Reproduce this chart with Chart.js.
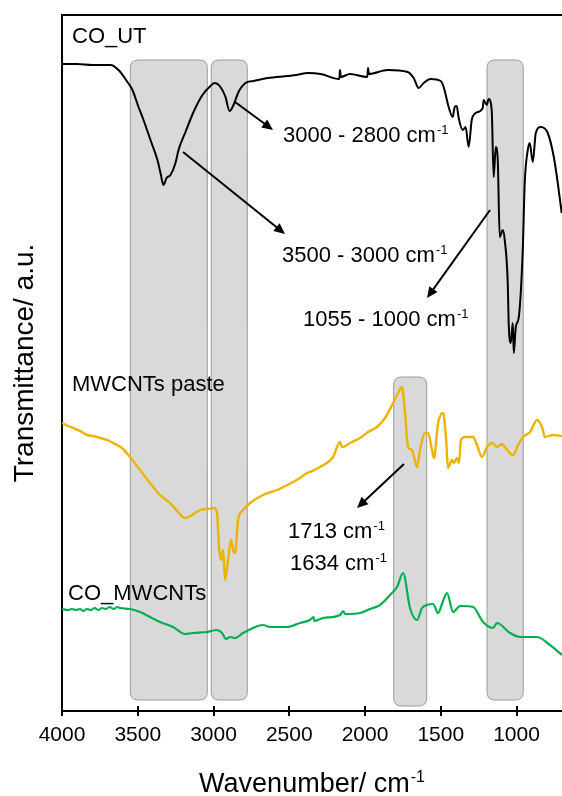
<!doctype html>
<html lang="en">
    <head>
        <meta charset="UTF-8" />
        <title>FTIR spectra</title>
        <script src="https://cdn.jsdelivr.net/npm/chart.js"></script>
        <style>
            html,
            body {
                margin: 0;
                padding: 0;
                background: #fff;
            }

            #chart {
                display: block;
            }
        </style>
    </head>
    <body>
        <canvas id="chart" width="562" height="796"></canvas>

        <script>
            const FONT = '"Liberation Sans", Arial, sans-serif';

            /*** * * data (wavenumber in cm-1, transmittance in a.u.) * * ***/

            const coUtWavenumber = [
                4000, 3900, 3800, 3680, 3627, 3568, 3535, 3495, 3462, 3416,
                3370, 3350, 3330, 3310, 3284, 3251, 3231, 3185, 3132, 3073,
                3020, 2993, 2954, 2921, 2894, 2868, 2835, 2789, 2736, 2643,
                2511, 2450, 2379, 2293, 2170, 2165, 2160, 2100, 1985, 1980,
                1975, 1851, 1719, 1679, 1646, 1613, 1567, 1501, 1481, 1448,
                1421, 1408, 1395, 1382, 1355, 1336, 1316, 1296, 1283, 1256,
                1223, 1217, 1197, 1184, 1164, 1151, 1137, 1124, 1111, 1091,
                1078, 1058, 1052, 1038, 1025, 1018, 1005, 985, 959, 946,
                926, 913, 893, 873, 840, 794, 754, 728, 702,
            ];
            const coUtValues = [
                647, 647, 646, 646, 641, 629, 621, 604, 591, 571,
                551, 538, 526, 533, 536, 548, 561, 579, 599, 616,
                625, 628, 624, 614, 600, 606, 619, 628, 630, 633,
                635, 636, 638, 637, 632, 641, 634, 637, 634, 643,
                637, 641, 639, 633, 623, 628, 632, 630, 624, 604,
                594, 604, 605, 593, 581, 584, 564, 591, 596, 599,
                603, 611, 606, 612, 601, 534, 564, 551, 474, 481,
                471, 428, 388, 368, 388, 358, 384, 394, 461, 528,
                561, 568, 549, 578, 584, 578, 554, 528, 498,
            ];

            const pasteWavenumber = [
                4000, 3960, 3927, 3880, 3835, 3790, 3749, 3700, 3663, 3604,
                3551, 3485, 3419, 3353, 3287, 3234, 3188, 3142, 3089, 3043,
                2997, 2977, 2964, 2951, 2937, 2924, 2904, 2885, 2871, 2858,
                2838, 2805, 2759, 2673, 2581, 2475, 2429, 2383, 2363, 2297,
                2211, 2165, 2152, 2099, 2033, 1980, 1921, 1868, 1815, 1782,
                1756, 1736, 1716, 1690, 1657, 1637, 1604, 1584, 1558, 1545,
                1518, 1485, 1466, 1452, 1426, 1413, 1393, 1380, 1367, 1340,
                1287, 1261, 1228, 1195, 1162, 1129, 1096, 1063, 1023, 990,
                957, 911, 865, 832, 812, 759, 700,
            ];
            const pasteValues = [
                288, 285, 283, 280, 276, 275, 273, 271, 268, 263,
                254, 241, 228, 216, 208, 199, 193, 196, 201, 202,
                203, 198, 164, 151, 161, 131, 151, 171, 161, 158,
                191, 201, 208, 216, 221, 229, 233, 238, 239, 244,
                254, 269, 264, 268, 273, 279, 284, 293, 308, 318,
                324, 298, 264, 261, 244, 261, 278, 278, 261, 253,
                288, 298, 274, 243, 251, 248, 253, 248, 271, 274,
                274, 266, 254, 264, 268, 264, 267, 261, 256, 266,
                274, 279, 291, 284, 274, 276, 275,
            ];

            const coMwWavenumber = [
                4000, 3960, 3935, 3905, 3881, 3860, 3835, 3810, 3785, 3760,
                3735, 3710, 3685, 3660, 3635, 3617, 3551, 3485, 3419, 3353,
                3267, 3188, 3135, 3043, 2977, 2944, 2918, 2891, 2858, 2805,
                2739, 2673, 2627, 2515, 2429, 2363, 2340, 2335, 2277, 2165,
                2145, 2132, 2033, 1967, 1901, 1835, 1789, 1749, 1703, 1657,
                1624, 1591, 1551, 1518, 1485, 1459, 1419, 1373, 1287, 1221,
                1155, 1129, 1043, 977, 865, 779, 700,
            ];
            const coMwValues = [
                102, 101, 102, 101, 102, 100, 102, 101, 103, 101,
                103, 102, 104, 102, 104, 103, 102, 99, 94, 89,
                84, 77, 78, 79, 81, 78, 72, 74, 73, 78,
                83, 86, 84, 84, 88, 91, 94, 90, 93, 96,
                100, 97, 98, 102, 106, 116, 124, 138, 103, 91,
                103, 106, 107, 98, 110, 118, 99, 105, 104, 89,
                83, 88, 78, 74, 74, 66, 56,
            ];

            const xTicks = [4000, 3500, 3000, 2500, 2000, 1500, 1000];

            // shaded wavenumber bands: [from, to, top, bottom]
            const bands = [
                [3549, 3041, 651, 11],
                [3015, 2777, 651, 11],
                [1811, 1593, 334, 5],
                [1195, 956, 651, 11],
            ];

            // arrows: [x0, y0, x1, y1] in data units, head at the end
            const arrows = [
                [2858, 609, 2607, 581],
                [3201, 559, 2528, 477],
                [1175, 501, 1591, 413],
                [1743, 247, 2053, 203],
            ];

            // notes: [text, superscript, x, y(baseline)]
            const notes = [
                ["3000 - 2800 cm", "-1", 2541, 569],
                ["3500 - 3000 cm", "-1", 2548, 449],
                ["1055 - 1000 cm", "-1", 2409, 385],
                ["1713 cm", "-1", 2508, 173],
                ["1634 cm", "-1", 2495, 141],
                ["CO_UT", "", 3934, 668],
                ["MWCNTs paste", "", 3934, 320],
                ["CO_MWCNTs", "", 3960, 111],
            ];

            /*** * * ***/

            function toPoints(xs, ys) {
                return xs.map((x, i) => ({ x: x, y: ys[i] }));
            }

            function drawSup(ctx, main, sup, x, y, size) {
                ctx.font = `${size}px ${FONT}`;
                ctx.textAlign = "left";
                ctx.textBaseline = "alphabetic";
                ctx.fillText(main, x, y);
                if (!sup) return;
                const w = ctx.measureText(main).width;
                ctx.font = `${Math.round(size * 0.6)}px ${FONT}`;
                ctx.fillText(sup, x + w + 1, y - size * 0.38);
            }

            function supWidth(ctx, main, sup, size) {
                ctx.font = `${size}px ${FONT}`;
                const w = ctx.measureText(main).width;
                ctx.font = `${Math.round(size * 0.6)}px ${FONT}`;
                return w + 1 + ctx.measureText(sup).width;
            }

            function roundRect(ctx, x, y, w, h, r) {
                ctx.beginPath();
                ctx.moveTo(x + r, y);
                ctx.lineTo(x + w - r, y);
                ctx.quadraticCurveTo(x + w, y, x + w, y + r);
                ctx.lineTo(x + w, y + h - r);
                ctx.quadraticCurveTo(x + w, y + h, x + w - r, y + h);
                ctx.lineTo(x + r, y + h);
                ctx.quadraticCurveTo(x, y + h, x, y + h - r);
                ctx.lineTo(x, y + r);
                ctx.quadraticCurveTo(x, y, x + r, y);
                ctx.closePath();
            }

            const decorations = {
                id: "decorations",
                beforeDatasetsDraw(chart) {
                    const { ctx, scales } = chart;
                    ctx.save();
                    bands.forEach(([a, b, top, bottom]) => {
                        const x0 = scales.x.getPixelForValue(a);
                        const x1 = scales.x.getPixelForValue(b);
                        const y0 = scales.y.getPixelForValue(top);
                        const y1 = scales.y.getPixelForValue(bottom);
                        roundRect(ctx, x0, y0, x1 - x0, y1 - y0, 8);
                        ctx.fillStyle = "#d9d9d9";
                        ctx.fill();
                        ctx.strokeStyle = "#9a9a9a";
                        ctx.lineWidth = 1;
                        ctx.stroke();
                    });
                    ctx.restore();
                },
                afterDatasetsDraw(chart) {
                    const { ctx, scales, chartArea } = chart;
                    ctx.save();

                    // top frame line
                    ctx.strokeStyle = "#000";
                    ctx.lineWidth = 2;
                    ctx.beginPath();
                    ctx.moveTo(chartArea.left, chartArea.top);
                    ctx.lineTo(chartArea.right, chartArea.top);
                    ctx.stroke();

                    // inner half of the x tick marks
                    xTicks.forEach((t) => {
                        const px = Math.round(scales.x.getPixelForValue(t));
                        ctx.beginPath();
                        ctx.moveTo(px, chartArea.bottom);
                        ctx.lineTo(px, chartArea.bottom - 5);
                        ctx.stroke();
                    });

                    // arrows
                    ctx.fillStyle = "#000";
                    arrows.forEach(([a, b, c, d]) => {
                        const x0 = scales.x.getPixelForValue(a);
                        const y0 = scales.y.getPixelForValue(b);
                        const x1 = scales.x.getPixelForValue(c);
                        const y1 = scales.y.getPixelForValue(d);
                        const ang = Math.atan2(y1 - y0, x1 - x0);
                        const hl = 11;
                        const hw = 5;
                        ctx.lineWidth = 2;
                        ctx.beginPath();
                        ctx.moveTo(x0, y0);
                        ctx.lineTo(x1 - Math.cos(ang) * hl * 0.8, y1 - Math.sin(ang) * hl * 0.8);
                        ctx.stroke();
                        ctx.beginPath();
                        ctx.moveTo(x1, y1);
                        ctx.lineTo(
                            x1 - Math.cos(ang) * hl - Math.sin(ang) * hw,
                            y1 - Math.sin(ang) * hl + Math.cos(ang) * hw,
                        );
                        ctx.lineTo(
                            x1 - Math.cos(ang) * hl + Math.sin(ang) * hw,
                            y1 - Math.sin(ang) * hl - Math.cos(ang) * hw,
                        );
                        ctx.closePath();
                        ctx.fill();
                    });

                    // notes and series labels
                    ctx.fillStyle = "#000";
                    notes.forEach(([text, sup, x, y]) => {
                        drawSup(
                            ctx,
                            text,
                            sup,
                            scales.x.getPixelForValue(x),
                            scales.y.getPixelForValue(y),
                            22,
                        );
                    });

                    // x axis title with superscript
                    const size = 27;
                    const w = supWidth(ctx, "Wavenumber/ cm", "-1", size);
                    const cx = (chartArea.left + chartArea.right) / 2;
                    drawSup(ctx, "Wavenumber/ cm", "-1", cx - w / 2, 792, size);

                    ctx.restore();
                },
            };

            /*** * * ***/

            const ctx = document.getElementById("chart").getContext("2d");

            new Chart(ctx, {
                type: "line",
                data: {
                    datasets: [
                        {
                            label: "CO_UT",
                            data: toPoints(coUtWavenumber, coUtValues),
                            borderColor: "#000000",
                        },
                        {
                            label: "MWCNTs paste",
                            data: toPoints(pasteWavenumber, pasteValues),
                            borderColor: "#ecb400",
                            borderWidth: 2.4,
                        },
                        {
                            label: "CO_MWCNTs",
                            data: toPoints(coMwWavenumber, coMwValues),
                            borderColor: "#00b050",
                            borderWidth: 2.2,
                        },
                    ],
                },
                options: {
                    responsive: false,
                    animation: false,
                    devicePixelRatio: 1,
                    layout: {
                        padding: { top: 15, right: 0, bottom: 0, left: 0 },
                    },
                    elements: {
                        point: { radius: 0 },
                        line: {
                            borderWidth: 2,
                            cubicInterpolationMode: "monotone",
                        },
                    },
                    plugins: {
                        legend: { display: false },
                        tooltip: { enabled: false },
                    },
                    scales: {
                        x: {
                            type: "linear",
                            reverse: true,
                            min: 700,
                            max: 4000,
                            afterBuildTicks: (scale) => {
                                scale.ticks = xTicks.map((v) => ({ value: v }));
                            },
                            afterFit: (scale) => {
                                scale.height = 85;
                            },
                            border: { color: "#000", width: 2 },
                            grid: {
                                drawOnChartArea: false,
                                drawTicks: true,
                                tickLength: 5,
                                color: "#000",
                                lineWidth: 2,
                            },
                            ticks: {
                                maxRotation: 0,
                                autoSkip: false,
                                padding: 7,
                                color: "#000",
                                font: { family: FONT, size: 21 },
                                callback: (value) => String(value),
                            },
                        },
                        y: {
                            type: "linear",
                            min: 0,
                            max: 696,
                            afterFit: (scale) => {
                                scale.width = 62;
                            },
                            border: { color: "#000", width: 2 },
                            grid: { display: false },
                            ticks: { display: false },
                            title: {
                                display: true,
                                text: "Transmittance/ a.u.",
                                color: "#000",
                                padding: { top: 8, bottom: 0 },
                                font: { family: FONT, size: 28 },
                            },
                        },
                    },
                },
                plugins: [decorations],
            });
        </script>
    </body>
</html>
